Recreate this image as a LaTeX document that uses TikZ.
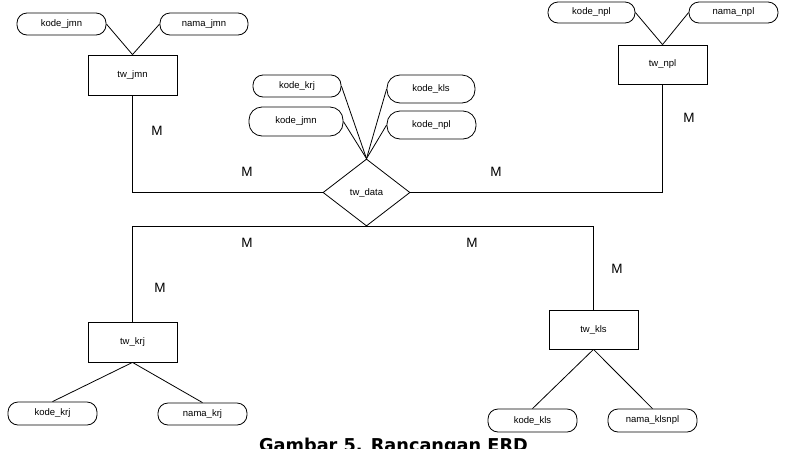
\documentclass[tikz,border=0pt]{standalone}
\usepackage{fontspec}
\setmainfont{Liberation Sans}
\newfontfamily\capfont{DejaVu Sans}
\usetikzlibrary{shapes.geometric}
\tikzset{
  base/.style={draw=black, line width=0.8pt, inner sep=0pt, font=\fontsize{9.5}{11}\selectfont},
  ent/.style={base, rectangle, minimum width=89pt, minimum height=40pt},
  attr/.style 2 args={base, rectangle, rounded corners=10pt, minimum width=#1, minimum height=#2},
  rel/.style={base, diamond, aspect=1.3, minimum width=87pt, minimum height=67pt},
  lnk/.style={draw=black, line width=0.8pt},
  card/.style={font=\fontsize{13.5}{15}\selectfont, inner sep=0pt}
}
\begin{document}
\begin{tikzpicture}[x=1pt,y=-1pt]
\useasboundingbox[fill=white] (0,0) rectangle (787,448);
% entities
\node[ent] (jmn) at (132.5,75) {tw\_jmn};
\node[ent, minimum height=39pt] (npl) at (662.5,64.5) {tw\_npl};
\node[ent] (krj) at (132.5,342) {tw\_krj};
\node[ent, minimum height=39pt] (kls) at (593.5,329.5) {tw\_kls};
\node[rel] (data) at (366.5,192.5) {tw\_data};
% attributes
\node[attr={89pt}{22pt}] (kj1) at (61.5,24) {kode\_jmn};
\node[attr={88pt}{22pt}] (nj) at (204,24) {nama\_jmn};
\node[attr={87pt}{21pt}] (kn1) at (591.5,12.5) {kode\_npl};
\node[attr={89pt}{21pt}] (nn) at (733.5,12.5) {nama\_npl};
\node[attr={88pt}{22pt}] (kk2) at (297,86) {kode\_krj};
\node[attr={94pt}{29pt}, rounded corners=13pt] (kj2) at (296,121.5) {kode\_jmn};
\node[attr={88pt}{28pt}, rounded corners=13pt] (kl2) at (431,89) {kode\_kls};
\node[attr={89pt}{28pt}, rounded corners=13pt] (kn2) at (431.5,125) {kode\_npl};
\node[attr={89pt}{23pt}] (kk3) at (52.5,413.5) {kode\_krj};
\node[attr={89pt}{22pt}] (nk) at (202.5,414) {nama\_krj};
\node[attr={89pt}{23pt}] (kl3) at (532.5,420.5) {kode\_kls};
\node[attr={89pt}{23pt}] (nkn) at (652.5,420.5) {nama\_klsnpl};
% attribute links
\draw[lnk] (kj1.east) -- (jmn.north);
\draw[lnk] (nj.west) -- (jmn.north);
\draw[lnk] (kn1.east) -- (npl.north);
\draw[lnk] (nn.west) -- (npl.north);
\draw[lnk] (kk2.east) -- (data.north);
\draw[lnk] (kj2.east) -- (data.north);
\draw[lnk] (kl2.west) -- (data.north);
\draw[lnk] (kn2.west) -- (data.north);
\draw[lnk] (krj.south) -- (kk3.north);
\draw[lnk] (krj.south) -- (nk.north);
\draw[lnk] (kls.south) -- (kl3.north);
\draw[lnk] (kls.south) -- (nkn.north);
% relationship links
\draw[lnk] (jmn.south) |- (data.west);
\draw[lnk] (npl.south) |- (data.east);
\draw[lnk] (krj.north) |- (data.south) -| (kls.north);
% cardinalities
\node[card] (m1) at (157,131) {M};
\node[card] (m2) at (247,172) {M};
\node[card] (m3) at (496,172) {M};
\node[card] (m4) at (689,118) {M};
\node[card] (m5) at (247,243) {M};
\node[card] (m6) at (160,288) {M};
\node[card] (m7) at (472,243) {M};
\node[card] (m8) at (617,269) {M};
% caption
\node[anchor=base, inner sep=0pt, font=\capfont\bfseries\fontsize{17.7}{20}\selectfont] (cap) at (393.5,451) {Gambar 5. Rancangan ERD};
\end{tikzpicture}
\end{document}
